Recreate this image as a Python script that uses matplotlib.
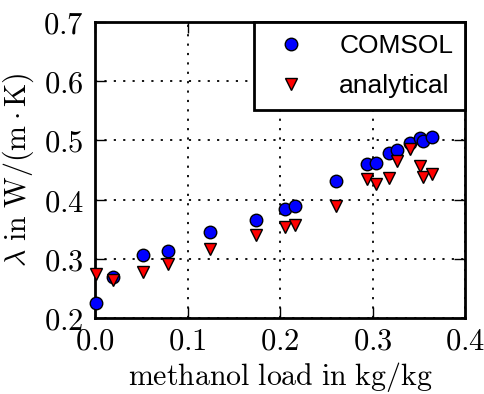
import matplotlib
matplotlib.use("Agg")
import matplotlib.pyplot as plt
from matplotlib.ticker import FormatStrFormatter, MultipleLocator

comsol_x = [0.001, 0.019, 0.052, 0.079, 0.124, 0.174, 0.205, 0.216, 0.260, 0.294, 0.304, 0.318, 0.326, 0.341, 0.351, 0.355, 0.364]
comsol_y = [0.226, 0.270, 0.306, 0.314, 0.345, 0.365, 0.384, 0.389, 0.432, 0.460, 0.462, 0.478, 0.484, 0.495, 0.504, 0.499, 0.506]
anal_x = [0.001, 0.019, 0.052, 0.079, 0.124, 0.174, 0.205, 0.216, 0.260, 0.294, 0.304, 0.318, 0.326, 0.341, 0.351, 0.355, 0.364]
anal_y = [0.275, 0.264, 0.278, 0.291, 0.316, 0.340, 0.354, 0.357, 0.390, 0.435, 0.426, 0.436, 0.465, 0.485, 0.456, 0.439, 0.444]

plt.rcParams['mathtext.fontset'] = 'cm'

fig = plt.figure(figsize=(4.84, 3.94), dpi=100)
ax = fig.add_axes([95/484, 1-318/394, 370/484, 296/394])

ax.plot(comsol_x, comsol_y, 'o', color='blue', markeredgecolor='black', markeredgewidth=1.0,
        markersize=9, label='COMSOL', clip_on=False, zorder=3)
ax.plot(anal_x, anal_y, 'v', color='red', markeredgecolor='black', markeredgewidth=1.0,
        markersize=9, label='analytical', clip_on=False, zorder=3)

ax.set_xlim(0, 0.4)
ax.set_ylim(0.2, 0.7)
ax.xaxis.set_major_locator(MultipleLocator(0.1))
ax.yaxis.set_major_locator(MultipleLocator(0.1))
ax.xaxis.set_major_formatter(FormatStrFormatter(r'$%.1f$'))
ax.yaxis.set_major_formatter(FormatStrFormatter(r'$%.1f$'))
ax.tick_params(direction='in', length=8, width=1, top=True, right=True,
               labelsize=22)
ax.tick_params(axis='x', pad=6)
ax.tick_params(axis='y', pad=8)
ax.grid(True, color='black', linestyle=(0, (1.2, 4)), linewidth=1.3)
for s in ax.spines.values():
    s.set_linewidth(2)

ax.set_xlabel(r'$\mathrm{methanol\ load\ in\ kg/kg}$', fontsize=21.5, labelpad=3)
ax.set_ylabel(r'$\lambda\ \mathrm{in\ W/(m\cdot K)}$', fontsize=21.5, labelpad=5)

leg = ax.legend(loc='upper right', borderaxespad=0, fancybox=False, numpoints=1,
                prop={'family': 'Liberation Sans', 'size': 19}, framealpha=1,
                handletextpad=0.87, borderpad=0.45, handlelength=1.9, labelspacing=0.62)
leg.get_frame().set_edgecolor('black')
leg.get_frame().set_linewidth(2)

fig.savefig('out.png', dpi=100)
